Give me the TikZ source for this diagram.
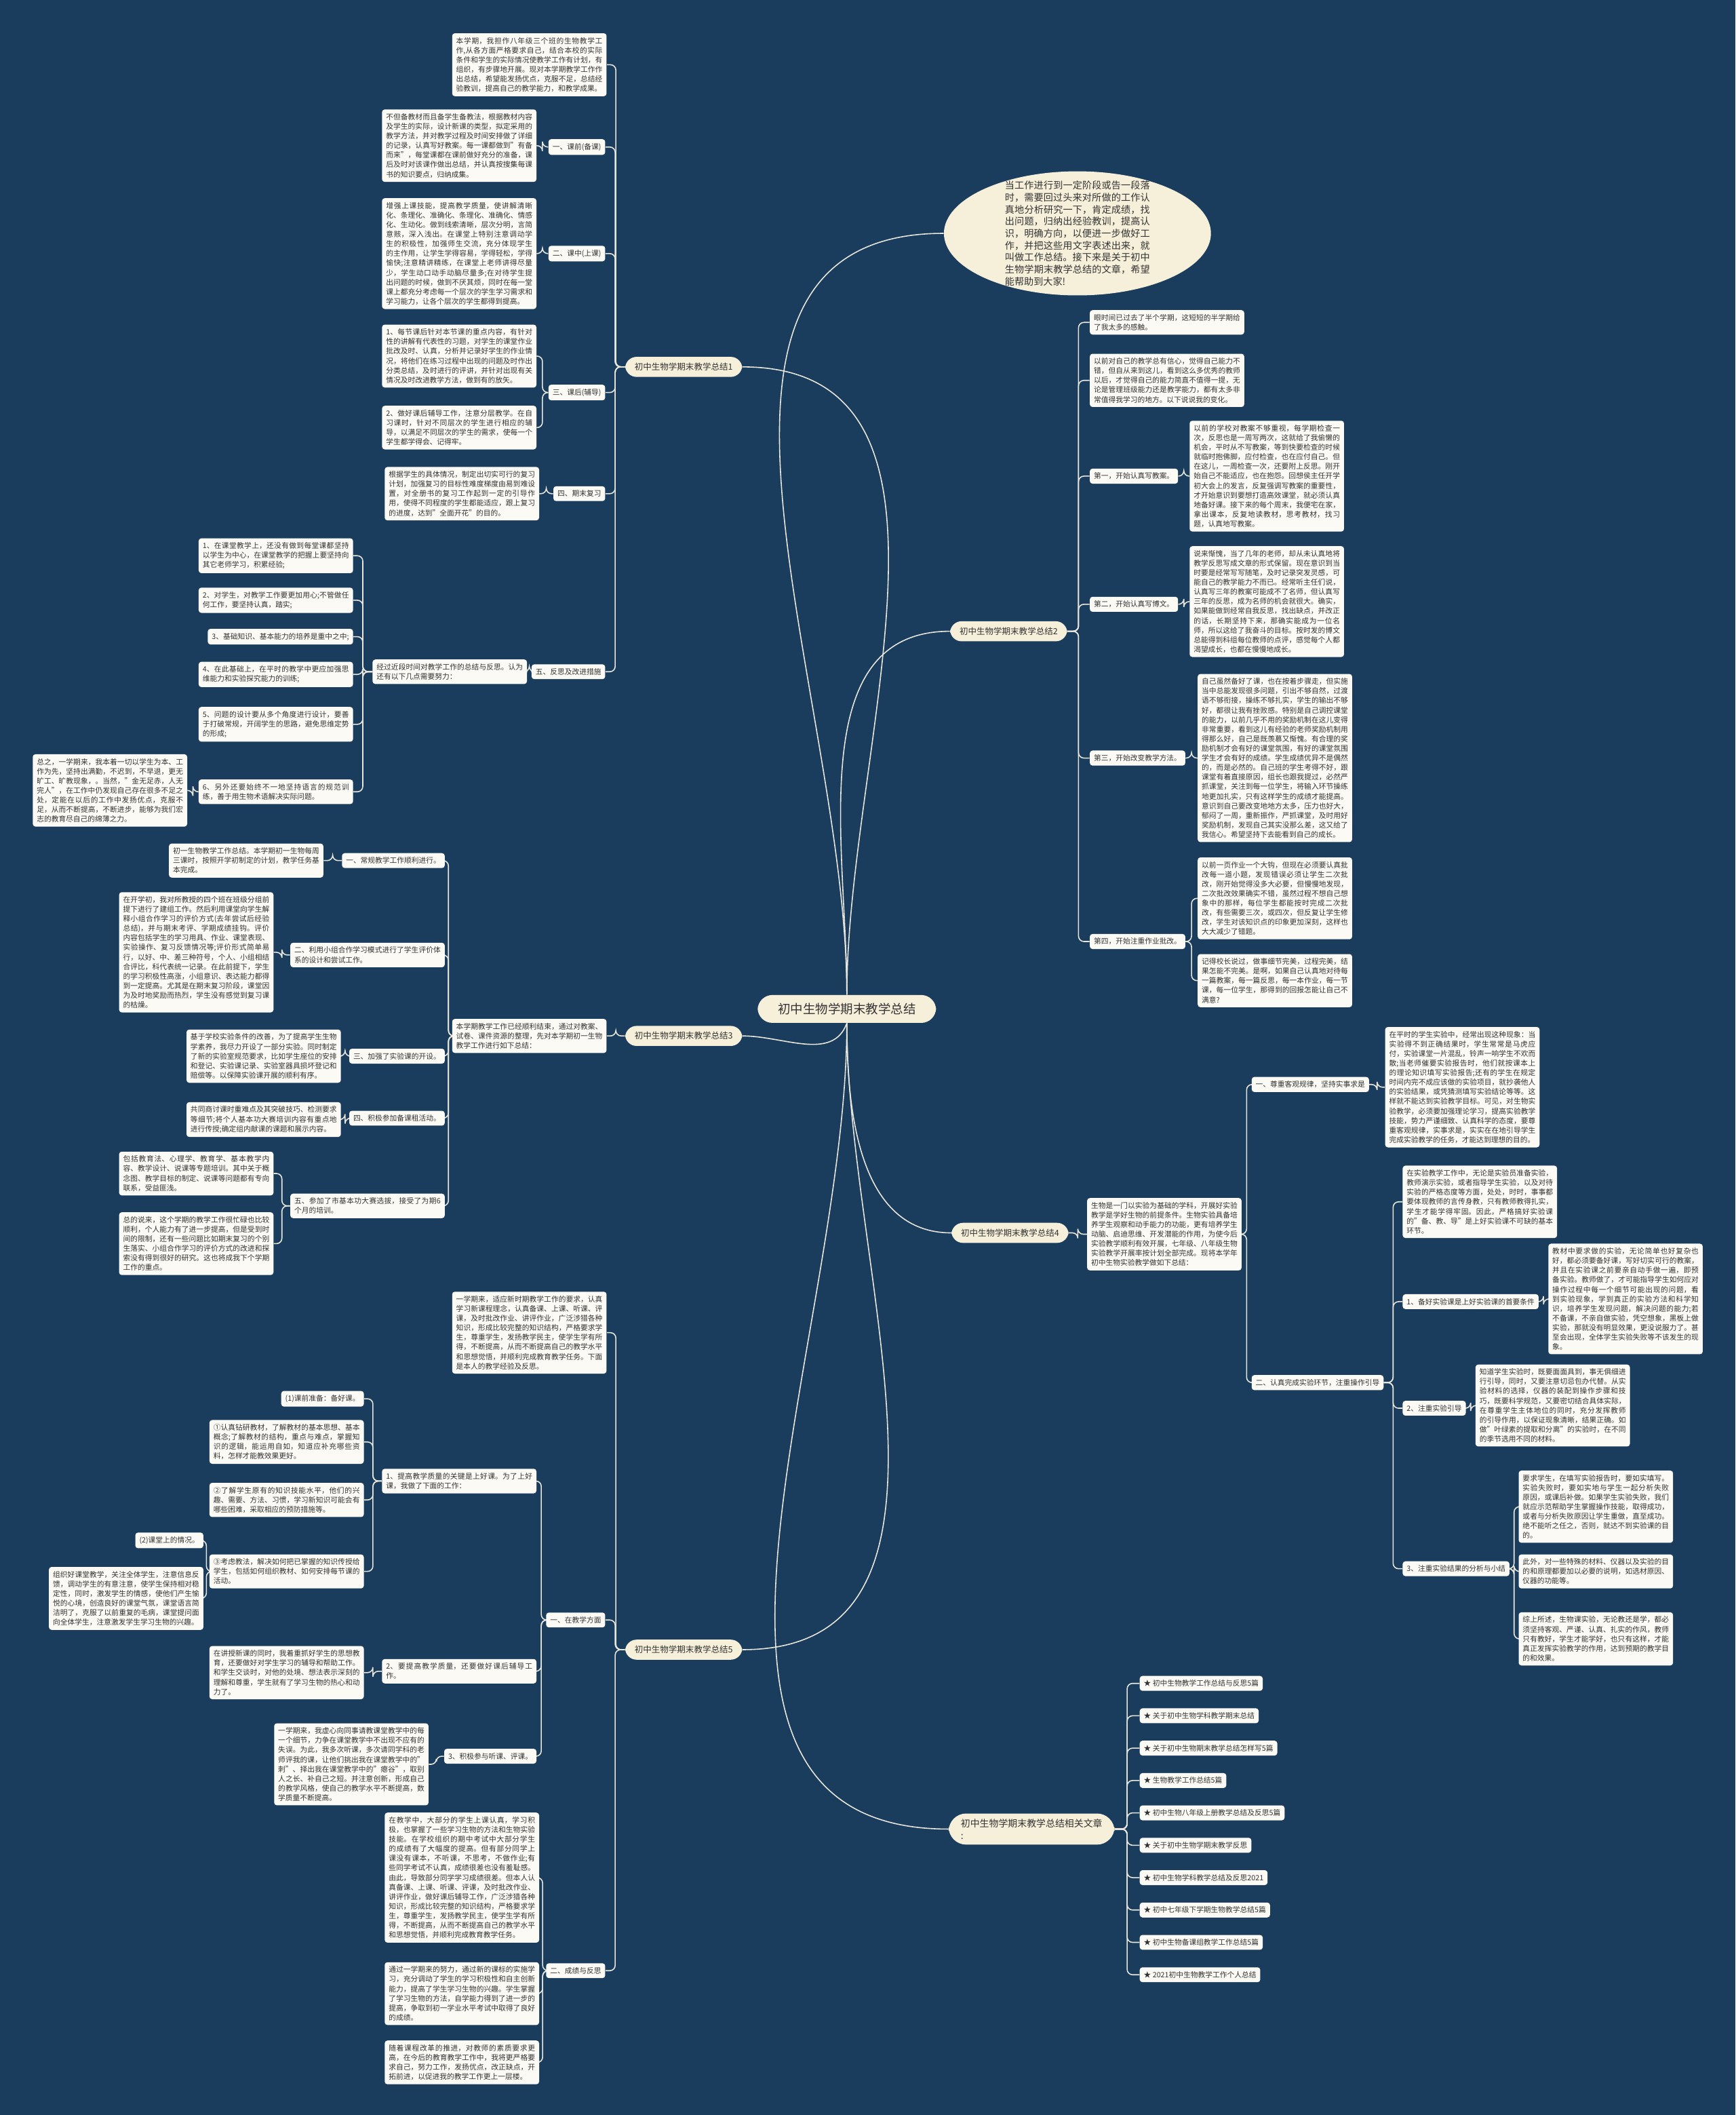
\documentclass[tikz,border=0pt]{standalone}
\usepackage{fontspec}
\setmainfont{Noto Sans CJK SC}
\usepackage{tikz}
\usetikzlibrary{calc,shapes.geometric,backgrounds}
\XeTeXlinebreaklocale "zh"
\XeTeXlinebreakskip = 0pt plus 1pt

\definecolor{bgc}{HTML}{1A3D5E}
\definecolor{leafc}{HTML}{FBFAF4}
\definecolor{topicc}{HTML}{F6EFDA}
\definecolor{linec}{HTML}{E8E5DA}
\definecolor{textc}{HTML}{333333}

\tikzset{
  base/.style={font=\fontsize{5.4}{7.1}\selectfont, text=textc, fill=leafc, rounded corners=2pt, inner sep=3pt},
  lbl/.style={base},
  para/.style={base, text width=108.5pt, align=justify},
  topic/.style={fill=topicc, text=textc, rounded corners=8.5pt, font=\fontsize{6.3}{8}\selectfont, inner xsep=7pt, inner ysep=4.5pt},
  rootbox/.style={fill=topicc, text=textc, rounded corners=11pt, font=\fontsize{9.3}{11}\selectfont, inner xsep=15pt, inner ysep=6pt},
  link/.style={draw=linec, line width=0.8pt, rounded corners=4pt},
}
% parent on the right, child on the left
\newcommand{\lk}[2]{\draw[link] (#1.west) -- ($(#1.west)!.5!(#1.west-|#2.east)$) |- (#2.east);}
% parent on the left, child on the right
\newcommand{\rk}[2]{\draw[link] (#1.east) -- ($(#1.east)!.5!(#1.east-|#2.west)$) |- (#2.west);}

\begin{document}
\begin{tikzpicture}[x=1pt, y=-1pt]
    \useasboundingbox (0,0) rectangle (1287,1568);

    % root
    \node[rootbox] (root) at (628,748) {初中生物学期末教学总结};

    % branch 1
    \node[topic] (b1) at (507,272) {初中生物学期末教学总结1};
    \node[para, anchor=east] (b1i) at (450,48) {本学期，我担作八年级三个班的生物教学工作,从各方面严格要求自己，结合本校的实际条件和学生的实际情况使教学工作有计划，有组织，有步骤地开展。现对本学期教学工作作出总结，希望能发扬优点，克服不足，总结经验教训，提高自己的教学能力，和教学成果。};
    \node[lbl, anchor=east] (b1a) at (449,109) {一、课前(备课)};
    \node[para, anchor=east] (b1at) at (398,108) {不但备教材而且备学生备教法，根据教材内容及学生的实际，设计新课的类型，拟定采用的教学方法，并对教学过程及时间安排做了详细的记录，认真写好教案。每一课都做到"有备而来"，每堂课都在课前做好充分的准备，课后及时对该课作做出总结，并认真按搜集每课书的知识要点，归纳成集。};
    \node[lbl, anchor=east] (b1b) at (449,188) {二、课中(上课)};
    \node[para, anchor=east] (b1bt) at (398,188) {增强上课技能，提高教学质量，使讲解清晰化、条理化、准确化、条理化、准确化、情感化、生动化。做到线索清晰，层次分明，言简意赅，深入浅出。在课堂上特别注意调动学生的积极性，加强师生交流，充分体现学生的主作用，让学生学得容易，学得轻松，学得愉快;注意精讲精练，在课堂上老师讲得尽量少，学生动口动手动脑尽量多;在对待学生提出问题的时候，做到不厌其烦，同时在每一堂课上都充分考虑每一个层次的学生学习需求和学习能力，让各个层次的学生都得到提高。};
    \node[lbl, anchor=east] (b1c) at (449,291) {三、课后(辅导)};
    \node[para, anchor=east] (b1ct1) at (398,264) {1、每节课后针对本节课的重点内容，有针对性的讲解有代表性的习题，对学生的课堂作业批改及时、认真，分析并记录好学生的作业情况，将他们在练习过程中出现的问题及时作出分类总结，及时进行的评讲，并针对出现有关情况及时改进教学方法，做到有的放矢。};
    \node[para, anchor=east] (b1ct2) at (398,317) {2、做好课后辅导工作，注意分层教学。在自习课时，针对不同层次的学生进行相应的辅导，以满足不同层次的学生的需求，使每一个学生都学得会、记得牢。};
    \node[lbl, anchor=east] (b1d) at (449,366) {四、期末复习};
    \node[para, anchor=east] (b1dt) at (400,366) {根据学生的具体情况，制定出切实可行的复习计划，加强复习的目标性难度梯度由易到难设置，对全册书的复习工作起到一定的引导作用，使得不同程度的学生都能适应，跟上复习的进度，达到"全面开花"的目的。};
    \node[lbl, anchor=east] (b1e) at (449,498) {五、反思及改进措施};
    \node[para, anchor=east] (b1et) at (391,498) {经过近段时间对教学工作的总结与反思。认为还有以下几点需要努力：};
    \node[para, anchor=east] (b1e1) at (262,412) {1、在课堂教学上，还没有做到每堂课都坚持以学生为中心，在课堂教学的把握上要坚持向其它老师学习，积累经验;};
    \node[para, anchor=east] (b1e2) at (262,445) {2、对学生，对教学工作要更加用心;不管做任何工作，要坚持认真，踏实;};
    \node[lbl, anchor=east] (b1e3) at (262,472) {3、基础知识、基本能力的培养是重中之中;};
    \node[para, anchor=east] (b1e4) at (262,500) {4、在此基础上，在平时的教学中更应加强思维能力和实验探究能力的训练;};
    \node[para, anchor=east] (b1e5) at (262,537) {5、问题的设计要从多个角度进行设计，要善于打破常规，开阔学生的思路，避免思维定势的形成;};
    \node[para, anchor=east] (b1e6) at (262,587) {6、另外还要始终不一地坚持语言的规范训练，善于用生物术语解决实际问题。};
    \node[para, anchor=east] (b1z) at (139,586) {总之，一学期来，我本着一切以学生为本、工作为先，坚持出满勤，不迟到，不早退，更无旷工、旷教现象，。当然，"金无足赤，人无完人"，在工作中仍发现自己存在很多不足之处，定能在以后的工作中发扬优点，克服不足，从而不断提高，不断进步，能够为我们宏志的教育尽自己的绵薄之力。};

    % branch 3
    \node[topic] (b3) at (507,768) {初中生物学期末教学总结3};
    \node[para, anchor=east] (b3i) at (450,768) {本学期教学工作已经顺利结束，通过对教案、试卷、课件资源的整理，先对本学期初一生物教学工作进行如下总结：};
    \node[lbl, anchor=east] (b3a) at (330,638) {一、常规教学工作顺利进行。};
    \node[para, anchor=east] (b3at) at (240,638) {初一生物教学工作总结。本学期初一生物每周三课时，按照开学初制定的计划，教学任务基本完成。};
    \node[para, anchor=east] (b3b) at (330,708) {二、利用小组合作学习模式进行了学生评价体系的设计和尝试工作。};
    \node[para, anchor=east] (b3bt) at (203,706) {在开学初，我对所教授的四个班在班级分组前提下进行了建组工作。然后利用课堂向学生解释小组合作学习的评价方式(去年尝试后经验总结)，并与期末考评、学期成绩挂钩。评价内容包括学生的学习用具、作业、课堂表现、实验操作、复习反馈情况等;评价形式简单易行，以好、中、差三种符号，个人、小组相结合评比，科代表统一记录。在此前提下，学生的学习积极性高涨，小组意识、表达能力都得到一定提高。尤其是在期末复习阶段，课堂因为及时地奖励而热烈，学生没有感觉到复习课的枯燥。};
    \node[lbl, anchor=east] (b3c) at (330,783) {三、加强了实验课的开设。};
    \node[para, anchor=east] (b3ct) at (253,783) {基于学校实验条件的改善，为了提高学生生物学素养，我尽力开设了一部分实验。同时制定了新的实验室规范要求，比如学生座位的安排和登记、实验课记录、实验室器具损坏登记和赔偿等。以保障实验课开展的顺利有序。};
    \node[lbl, anchor=east] (b3d) at (330,829) {四、积极参加备课租活动。};
    \node[para, anchor=east] (b3dt) at (253,830) {共同商讨课时重难点及其突破技巧、检测要求等细节;将个人基本功大赛培训内容有重点地进行传授;确定组内献课的课题和展示内容。};
    \node[para, anchor=east] (b3e) at (330,894) {五、参加了市基本功大赛选拔，接受了为期6个月的培训。};
    \node[para, anchor=east] (b3et1) at (203,870) {包括教育法、心理学、教育学、基本教学内容、教学设计、说课等专题培训。其中关于概念图、教学目标的制定、说课等问题都有专向联系，受益匪浅。};
    \node[para, anchor=east] (b3et2) at (203,922) {总的说来，这个学期的教学工作很忙碌也比较顺利，个人能力有了进一步提高，但是受到时间的限制，还有一些问题比如期末复习的个别生落实、小组合作学习的评价方式的改进和探索没有得到很好的研究。这也将成我下个学期工作的重点。};

    % branch 5
    \node[topic] (b5) at (507,1223) {初中生物学期末教学总结5};
    \node[para, anchor=east] (b5i) at (450,988) {一学期来，适应新时期教学工作的要求，认真学习新课程理念，认真备课、上课、听课、评课，及时批改作业、讲评作业，广泛涉猎各种知识，形成比较完整的知识结构，严格要求学生，尊重学生，发扬教学民主，使学生学有所得，不断提高，从而不断提高自己的教学水平和思想觉悟，并顺利完成教育教学任务。下面是本人的教学经验及反思。};
    \node[lbl, anchor=east] (b5a) at (449,1201) {一、在教学方面};
    \node[para, anchor=east] (b5a1) at (398,1098) {1、提高教学质量的关键是上好课。为了上好课，我做了下面的工作：};
    \node[lbl, anchor=east] (b5a1a) at (270,1037) {(1)课前准备：备好课。};
    \node[para, anchor=east] (b5a1b) at (270,1069) {①认真钻研教材，了解教材的基本思想、基本概念;了解教材的结构，重点与难点，掌握知识的逻辑，能运用自如，知道应补充哪些资料，怎样才能教效果更好。};
    \node[para, anchor=east] (b5a1c) at (270,1112) {②了解学生原有的知识技能水平，他们的兴趣、需要、方法、习惯，学习新知识可能会有哪些困难，采取相应的预防措施等。};
    \node[para, anchor=east] (b5a1d) at (270,1165) {③考虑教法，解决如何把已掌握的知识传授给学生，包括如何组织教材、如何安排每节课的活动。};
    \node[lbl, anchor=east] (b5a1e) at (151,1142) {(2)课堂上的情况。};
    \node[para, anchor=east] (b5a1f) at (151,1185) {组织好课堂教学，关注全体学生，注意信息反馈，调动学生的有意注意，使学生保持相对稳定性，同时，激发学生的情感，使他们产生愉悦的心境，创造良好的课堂气氛，课堂语言简洁明了，克服了以前重复的毛病，课堂提问面向全体学生，注意激发学生学习生物的兴趣。};
    \node[para, anchor=east] (b5a2) at (398,1239) {2、要提高教学质量，还要做好课后辅导工作。};
    \node[para, anchor=east] (b5a2t) at (270,1240) {在讲授新课的同时，我着重抓好学生的思想教育，还要做好对学生学习的辅导和帮助工作。和学生交谈时，对他的处境、想法表示深刻的理解和尊重，学生就有了学习生物的热心和动力了。};
    \node[lbl, anchor=east] (b5a3) at (398,1302) {3、积极参与听课、评课。};
    \node[para, anchor=east] (b5a3t) at (318,1308) {一学期来，我虚心向同事请教课堂教学中的每一个细节，力争在课堂教学中不出现不应有的失误。为此，我多次听课，多次请同学科的老师评我的课，让他们挑出我在课堂教学中的"刺"、择出我在课堂教学中的"瘪谷"，取别人之长、补自己之短。并注意创新，形成自己的教学风格，使自己的教学水平不断提高，数学质量不断提高。};
    \node[lbl, anchor=east] (b5b) at (449,1461) {二、成绩与反思};
    \node[para, anchor=east] (b5bt1) at (400,1392) {在教学中，大部分的学生上课认真，学习积极，也掌握了一些学习生物的方法和生物实验技能。在学校组织的期中考试中大部分学生的成绩有了大幅度的提高。但有部分同学上课没有课本，不听课，不思考，不做作业;有些同学考试不认真，成绩很差也没有羞耻感。由此，导致部分同学学习成绩很差。但本人认真备课、上课、听课、评课，及时批改作业、讲评作业，做好课后辅导工作，广泛涉猎各种知识，形成比较完整的知识结构，严格要求学生，尊重学生，发扬教学民主，使学生学有所得，不断提高，从而不断提高自己的教学水平和思想觉悟，并顺利完成教育教学任务。};
    \node[para, anchor=east] (b5bt2) at (400,1478) {通过一学期来的努力，通过新的课标的实施学习，充分调动了学生的学习积极性和自主创新能力，提高了学生学习生物的兴趣。学生掌握了学习生物的方法，自学能力得到了进一步的提高，争取到初一学业水平考试中取得了良好的成绩。};
    \node[para, anchor=east] (b5bt3) at (400,1529) {随着课程改革的推进，对教师的素质要求更高，在今后的教育教学工作中，我将更严格要求自己，努力工作，发扬优点，改正缺点，开拓前进，以促进我的教学工作更上一层楼。};

    % intro bubble
    \node[ellipse, fill=topicc, minimum width=198pt, minimum height=92pt, inner sep=0pt] (intro) at (799,173) {};
    \node[text=textc, font=\fontsize{7.1}{8.9}\selectfont, text width=107.5pt, align=justify] (introtext) at (intro.center) {当工作进行到一定阶段或告一段落时，需要回过头来对所做的工作认真地分析研究一下，肯定成绩，找出问题，归纳出经验教训，提高认识，明确方向，以便进一步做好工作，并把这些用文字表述出来，就叫做工作总结。接下来是关于初中生物学期末教学总结的文章，希望能帮助到大家!};

    % branch 2
    \node[topic] (b2) at (748,468) {初中生物学期末教学总结2};
    \node[para, anchor=west] (b2c1) at (808,239) {眼时间已过去了半个学期，这短短的半学期给了我太多的感触。};
    \node[para, anchor=west] (b2c2) at (808,282) {以前对自己的教学总有信心，觉得自己能力不错，但自从来到这儿，看到这么多优秀的教师以后，才觉得自己的能力简直不值得一提，无论是管理班级能力还是教学能力，都有太多非常值得我学习的地方。以下说说我的变化。};
    \node[lbl, anchor=west] (b2c3) at (808,353) {第一，开始认真写教案。};
    \node[para, anchor=west] (b2c3t) at (882,353) {以前的学校对教案不够重视，每学期检查一次，反思也是一周写两次，这就给了我偷懒的机会，平时从不写教案，等到快要检查的时候就临时抱佛脚，应付检查，也在应付自己。但在这儿，一周检查一次，还要附上反思。刚开始自己不能适应，也在抱怨。回想侯主任开学初大会上的发言，反复强调写教案的重要性，才开始意识到要想打造高效课堂，就必须认真地备好课。接下来的每个周末，我便宅在家，拿出课本，反复地读教材，思考教材，找习题，认真地写教案。};
    \node[lbl, anchor=west] (b2c4) at (808,448) {第二，开始认真写博文。};
    \node[para, anchor=west] (b2c4t) at (882,446) {说来惭愧，当了几年的老师，却从未认真地将教学反思写成文章的形式保留。现在意识到当时要是经常写写随笔，及时记录突发灵感，可能自己的教学能力不而已。经常听主任们说，认真写三年的教案可能成不了名师，但认真写三年的反思，成为名师的机会就很大。确实，如果能做到经常自我反思，找出缺点，并改正的话，长期坚持下来，那确实能成为一位名师，所以这给了我奋斗的目标。按时发的博文总能得到科组每位教师的点评，感觉每个人都渴望成长，也都在慢慢地成长。};
    \node[lbl, anchor=west] (b2c5) at (808,562) {第三，开始改变教学方法。};
    \node[para, anchor=west] (b2c5t) at (888,562) {自己虽然备好了课，也在按着步骤走，但实施当中总能发现很多问题，引出不够自然，过渡语不够衔接，操练不够扎实，学生的输出不够好，都很让我有挫败感。特别是自己调控课堂的能力，以前几乎不用的奖励机制在这儿变得非常重要，看到这儿有经验的老师奖励机制用得那么好，自己是既羡慕又惭愧。有合理的奖励机制才会有好的课堂氛围，有好的课堂氛围学生才会有好的成绩。学生成绩优异不是偶然的，而是必然的。自己班的学生考得不好，跟课堂有着直接原因，组长也跟我提过，必然严抓课堂，关注到每一位学生，将输入环节操练地更加扎实，只有这样学生的成绩才能提高。意识到自己要改变地地方太多，压力也好大，郁闷了一周，重新振作，严抓课堂，及时用好奖励机制，发现自己其实没那么差，这又给了我信心。希望坚持下去能看到自己的成长。};
    \node[lbl, anchor=west] (b2c6) at (808,698) {第四，开始注重作业批改。};
    \node[para, anchor=west] (b2c6a) at (888,666) {以前一页作业一个大钩，但现在必须要认真批改每一道小题，发现错误必须让学生二次批改，刚开始觉得没多大必要，但慢慢地发现，二次批改效果确实不错，虽然过程不想自己想象中的那样，每位学生都能按时完成二次批改，有些需要三次，或四次，但反复让学生修改，学生对该知识点的印象更加深刻，这样也大大减少了错题。};
    \node[para, anchor=west] (b2c6b) at (888,727) {记得校长说过，做事细节完美，过程完美，结果怎能不完美。是啊，如果自己认真地对待每一篇教案，每一篇反思，每一本作业，每一节课，每一位学生，那得到的回报怎能让自己不满意?};

    % branch 4
    \node[topic] (b4) at (749,914) {初中生物学期末教学总结4};
    \node[para, anchor=west] (b4i) at (806,915) {生物是一门以实验为基础的学科，开展好实验教学是学好生物的前提条件。生物实验具备培养学生观察和动手能力的功能，更有培养学生动脑、启迪思维、开发潜能的作用，为使今后实验教学顺利有效开展，七年级、八年级生物实验教学开展率按计划全部完成。现将本学年初中生物实验教学做如下总结：};
    \node[lbl, anchor=west] (b4a) at (928,804) {一、尊重客观规律，坚持实事求是};
    \node[para, anchor=west] (b4at) at (1027,806) {在平时的学生实验中，经常出现这种现象：当实验得不到正确结果时，学生常常是马虎应付，实验课堂一片混乱，铃声一响学生不欢而散;当老师催要实验报告时，他们就按课本上的理论知识填写实验报告;还有的学生在规定时间内完不成应该做的实验项目，就抄袭他人的实验结果，或凭猜测填写实验结论等等。这样就不能达到实验教学目标。可见，对生物实验教学，必须要加强理论学习，提高实验教学技能，势力严谨细致、认真科学的态度，要尊重客观规律，实事求是，实实在在地引导学生完成实验教学的任务，才能达到理想的目的。};
    \node[lbl, anchor=west] (b4b) at (928,1025) {二、认真完成实验环节，注重操作引导};
    \node[para, anchor=west] (b4b0) at (1040,891) {在实验教学工作中，无论是实验员准备实验，教师演示实验，或者指导学生实验，以及对待实验的严格态度等方面，处处，时时，事事都要体现教师的言传身教，只有教师教得扎实，学生才能学得牢固。因此，严格搞好实验课的"备、教、导"是上好实验课不可缺的基本环节。};
    \node[lbl, anchor=west] (b4b1) at (1040,965) {1、备好实验课是上好实验课的首要条件};
    \node[para, anchor=west] (b4b1t) at (1148,963) {教材中要求做的实验，无论简单也好复杂也好，都必须要备好课，写好切实可行的教案，并且在实验课之前要亲自动手做一遍，即预备实验。教师做了，才可能指导学生如何应对操作过程中每一个细节可能出现的问题，看到实验现象，学到真正的实验方法和科学知识，培养学生发现问题，解决问题的能力;若不备课，不亲自做实验，凭空想象，黑板上做实验，那就没有明显效果，更没说服力了。甚至会出现，全体学生实验失败等不该发生的现象。};
    \node[lbl, anchor=west] (b4b2) at (1040,1044) {2、注重实验引导};
    \node[para, anchor=west] (b4b2t) at (1094,1042) {知道学生实验时，既要面面具到，事无俱细进行引导，同时，又要注意切忌包办代替。从实验材料的选择，仪器的装配到操作步骤和技巧，既要科学规范，又要密切结合具体实际，在尊重学生主体地位的同时，充分发挥教师的引导作用，以保证现象清晰，结果正确。如做"叶绿素的提取和分离"的实验时，在不同的季节选用不同的材料。};
    \node[lbl, anchor=west] (b4b3) at (1040,1163) {3、注重实验结果的分析与小结};
    \node[para, anchor=west] (b4b3a) at (1126,1117) {要求学生，在填写实验报告时，要如实填写。实验失败时，要如实地与学生一起分析失败原因，或课后补做。如果学生实验失败，我们就应示范帮助学生掌握操作技能，取得成功，或者与分析失败原因让学生重做，直至成功。绝不能听之任之，否则，就达不到实验课的目的。};
    \node[para, anchor=west] (b4b3b) at (1126,1165) {此外，对一些特殊的材料、仪器以及实验的目的和原理都要加以必要的说明，如选材原因、仪器的功能等。};
    \node[para, anchor=west] (b4b3c) at (1126,1215) {综上所述，生物课实验，无论教还是学，都必须坚持客观、严谨、认真、扎实的作风，教师只有教好，学生才能学好，也只有这样，才能真正发挥实验教学的作用，达到预期的教学目的和效果。};

    % related articles
    \node[fill=topicc, text=textc, rounded corners=13pt, font=\fontsize{7}{9}\selectfont, align=left, inner xsep=9pt, inner ysep=4pt] (rel) at (765,1356) {初中生物学期末教学总结相关文章\\:};
    \foreach \t [count=\i] in {初中生物教学工作总结与反思5篇, 关于初中生物学科教学期末总结, 关于初中生物期末教学总结怎样写5篇, 生物教学工作总结5篇, 初中生物八年级上册教学总结及反思5篇, 关于初中生物学期末教学反思, 初中生物学科教学总结及反思2021, 初中七年级下学期生物教学总结5篇, 初中生物备课组教学工作总结5篇, 2021初中生物教学工作个人总结}
        \node[lbl, anchor=west] (r\i) at (845,1224+24*\i) {★ \t};

    \begin{scope}[on background layer]
        \fill[bgc] (0,0) rectangle (1287,1568);
        % root to branches
        \draw[link] (root.north) to[out=90,in=0] (b1.east);
        \draw[link] (root.south) to[out=-110,in=0] (b3.east);
        \draw[link] (root.south) to[out=-90,in=0] (b5.east);
        \draw[link] (root.north) to[out=90,in=180] (intro.west);
        \draw[link] (root.north) to[out=90,in=180] (b2.west);
        \draw[link] (root.south) to[out=-90,in=180] (b4.west);
        \draw[link] (root.south) to[out=-90,in=180] (rel.west);
        % branch 1
        \foreach \c in {b1i,b1a,b1b,b1c,b1d,b1e} {\lk{b1}{\c}}
        \lk{b1a}{b1at} \lk{b1b}{b1bt} \lk{b1c}{b1ct1} \lk{b1c}{b1ct2} \lk{b1d}{b1dt}
        \lk{b1e}{b1et}
        \foreach \c in {b1e1,b1e2,b1e3,b1e4,b1e5,b1e6} {\lk{b1et}{\c}}
        \lk{b1e6}{b1z}
        % branch 3
        \lk{b3}{b3i}
        \foreach \c in {b3a,b3b,b3c,b3d,b3e} {\lk{b3i}{\c}}
        \lk{b3a}{b3at} \lk{b3b}{b3bt} \lk{b3c}{b3ct} \lk{b3d}{b3dt}
        \lk{b3e}{b3et1} \lk{b3e}{b3et2}
        % branch 5
        \lk{b5}{b5i} \lk{b5}{b5a} \lk{b5}{b5b}
        \lk{b5a}{b5a1} \lk{b5a}{b5a2} \lk{b5a}{b5a3}
        \foreach \c in {b5a1a,b5a1b,b5a1c,b5a1d} {\lk{b5a1}{\c}}
        \lk{b5a1d}{b5a1e} \lk{b5a1d}{b5a1f}
        \lk{b5a2}{b5a2t} \lk{b5a3}{b5a3t}
        \lk{b5b}{b5bt1} \lk{b5b}{b5bt2} \lk{b5b}{b5bt3}
        % branch 2
        \foreach \c in {b2c1,b2c2,b2c3,b2c4,b2c5,b2c6} {\rk{b2}{\c}}
        \rk{b2c3}{b2c3t} \rk{b2c4}{b2c4t} \rk{b2c5}{b2c5t}
        \rk{b2c6}{b2c6a} \rk{b2c6}{b2c6b}
        % branch 4
        \rk{b4}{b4i} \rk{b4i}{b4a} \rk{b4i}{b4b}
        \rk{b4a}{b4at}
        \foreach \c in {b4b0,b4b1,b4b2,b4b3} {\rk{b4b}{\c}}
        \rk{b4b1}{b4b1t} \rk{b4b2}{b4b2t}
        \rk{b4b3}{b4b3a} \rk{b4b3}{b4b3b} \rk{b4b3}{b4b3c}
        % related
        \foreach \i in {1,...,10} {\rk{rel}{r\i}}
    \end{scope}
\end{tikzpicture}
\end{document}
